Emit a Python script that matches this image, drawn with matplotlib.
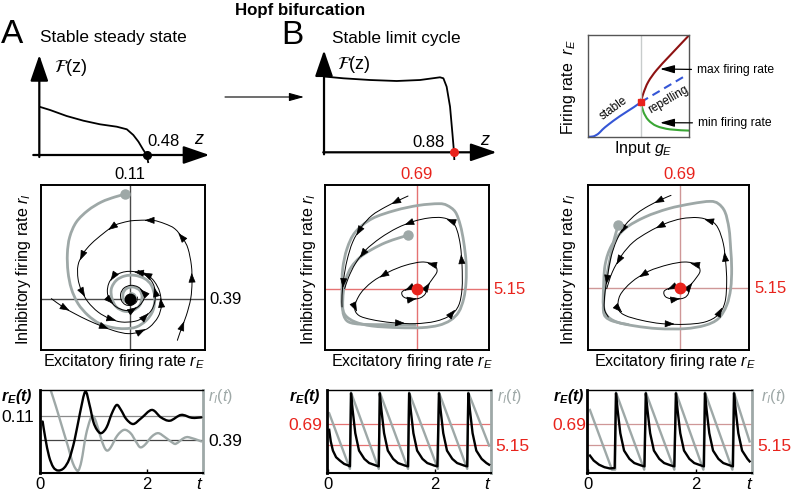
import numpy as np
import matplotlib
matplotlib.use("Agg")
import matplotlib.pyplot as plt
from matplotlib.path import Path
from matplotlib.patches import PathPatch

plt.rcParams['font.family'] = ['Liberation Sans', 'DejaVu Sans']
plt.rcParams['mathtext.fontset'] = 'custom'
plt.rcParams['mathtext.rm'] = 'Liberation Sans'
plt.rcParams['mathtext.it'] = 'Liberation Sans:italic'
plt.rcParams['mathtext.bf'] = 'Liberation Sans:italic:bold'

# ====================== DATA ======================
# F(z) curves (top row)
zA = [0, 0.048, 0.122, 0.197, 0.271, 0.346, 0.391, 0.42, 0.443, 0.465, 0.48, 0.487]
FA = [0.483, 0.45, 0.39, 0.343, 0.307, 0.283, 0.257, 0.20, 0.133, 0.05, 0.0, -0.08]
zA_root, zA_label = 0.48, "0.48"
zB = [0.007, 0.131, 0.311, 0.492, 0.65, 0.785, 0.808, 0.83, 0.853, 0.869, 0.88, 0.882]
FB = [0.757, 0.74, 0.723, 0.713, 0.723, 0.75, 0.74, 0.656, 0.456, 0.19, 0.0, -0.077]
zB_root, zB_label = 0.88, "0.88"

# bifurcation diagram (input g_E vs firing rate r_E)
g_hopf, r_hopf = 0.52, 0.34
g_stable = [0, 0.05, 0.1, 0.14, 0.2, 0.31, 0.45, 0.52]
r_stable = [0, 0.003, 0.03, 0.07, 0.12, 0.2, 0.29, 0.34]
g_repel = [0.52, 0.98]
r_repel = [0.34, 0.61]
g_max = [0.52, 0.545, 0.594, 0.677, 0.81, 1.0]
r_max = [0.34, 0.426, 0.54, 0.656, 0.80, 1.0]
g_min = [0.52, 0.545, 0.594, 0.677, 0.81, 1.0]
r_min = [0.34, 0.246, 0.164, 0.105, 0.072, 0.06]

# phase plane A (stable focus)
gA_x = [52, 46, 38, 30, 23, 19, 17.6, 18, 20, 24, 30, 37, 45, 52, 59, 65, 69, 70, 68, 64, 58, 52, 47, 44,
        44.4, 47, 52, 57, 61, 62.4, 61, 57, 53, 51, 51.6, 55, 58, 58, 55.6, 55]
gA_y = [92.6, 91, 88, 83, 76, 67, 57, 46, 36, 27, 20, 15, 12.6, 12, 13, 17, 23, 31, 38, 42, 44, 43.6, 41, 36,
        30, 25, 22.4, 23, 26, 31, 35, 37, 36, 33, 29, 27.6, 29, 32, 33, 30]
bA1_x = [83.6, 86, 89, 91.6, 92.4, 92, 90, 87, 82, 76, 69, 60, 54, 46, 39, 32, 27, 24, 24, 26, 30, 36, 43, 50,
         58, 64, 68, 70, 70.4, 69, 66, 61, 55, 50, 45, 42.4, 41.6, 43, 47, 52, 57, 61, 63.6, 63, 60, 55.6,
         51.6, 49.6, 50, 52.4, 56, 59, 59.6]
bA1_y = [5, 12, 20, 30, 40, 50, 60, 66, 72, 75, 77, 77, 76.4, 74, 69, 63, 57, 50, 42, 35, 28, 22, 18, 16,
         16.4, 19, 23, 28, 34, 39, 43, 45.6, 46.4, 45.6, 43, 39, 34, 29, 25, 23, 23.4, 26, 30, 34, 37, 38,
         36.4, 33, 29, 26.4, 26, 28, 31]
bA2_x = [8, 15, 22, 30, 38, 46, 54, 61, 67, 72, 74, 73, 70, 66, 60]
bA2_y = [30, 25, 21, 17, 13.6, 10.6, 9, 10, 13, 19, 26, 34, 40, 44, 47]
fpA = (55, 30)
fpA_labels = ("0.11", "0.39")

# phase plane B (limit cycle)
gB_x = [12, 12.4, 15, 20, 30, 44, 58, 70, 75, 80, 83, 85, 86.4, 86.4, 85, 82, 77, 70, 60, 46, 30, 20, 14, 12, 12]
gB_y = [36, 48, 60, 70, 78, 83, 86, 87, 86, 82, 74, 64, 52, 40, 30, 22, 17, 14, 12.6, 12.6, 13.6, 16, 20, 26, 36]
gB2_x = [51.4, 46, 38, 30, 23, 17.6, 14.4, 12.8, 12.4, 13, 16, 24, 40, 56]
gB2_y = [68, 66.4, 63.6, 59.6, 55, 49, 42, 34, 26, 20, 16, 14.6, 14.4, 14]
bB1_x = [51.6, 46, 38, 30, 23.6, 18.4, 15, 13, 12, 12]
bB1_y = [91.6, 89, 85, 80, 73, 64, 53, 42, 32, 25]
bB2_x = [57, 52, 48, 49, 54, 59, 62, 63, 66, 69, 67, 60, 50, 40, 30, 23, 19.6, 22, 30, 42, 56, 68, 77, 82, 84,
         84, 83, 81, 78, 72, 64, 55, 45, 35, 26, 20, 16, 13.6]
bB2_y = [36, 36, 34, 31, 29.6, 30.5, 33, 37, 41.5, 46.4, 50.4, 52, 50, 46, 40, 33, 25, 20, 17.4, 15.6, 15, 16.4,
         20, 26, 36, 50, 62, 71, 76.4, 78.6, 78.4, 76.4, 72.4, 66.4, 59, 51, 43, 36]
fpB = (57, 36)
fpB_labels = ("0.69", "5.15")

# phase plane C (limit cycle, other initial condition)
gC_x = [11, 12, 16, 24, 36, 50, 64, 75, 80, 84, 86.4, 87.4, 88, 87.4, 85, 80, 72, 60, 44, 30, 19, 13, 11, 11]
gC_y = [34, 50, 62, 72, 79, 84, 87, 88.4, 87, 82, 72, 60, 48, 36, 26, 18, 14, 12, 12, 13.6, 16, 20, 26, 34]
gC2_x = [20, 18.4, 16.4, 14.4, 12.6, 11.4, 11, 12.4, 17, 26]
gC2_y = [74, 69, 61, 51, 41, 31, 23, 19, 16.4, 14.4]
bC1_x = [51.6, 46, 38, 31, 24, 19, 15.6, 13.6, 12, 11.6, 14]
bC1_y = [92, 89.6, 85.6, 81, 74, 65, 55, 44, 34, 24, 19]
bC2_x = [57, 52, 47.5, 48.5, 54, 59.5, 62, 62.5, 66, 69, 67, 60, 50, 38, 28, 21, 20, 24, 34, 46, 60, 72, 80,
         84, 85, 84.4, 83, 80, 76, 68, 58, 48, 38, 29, 22, 16.4, 13]
bC2_y = [36.4, 36.6, 34.5, 31, 29.6, 30.5, 33, 37, 41.5, 46.4, 50.4, 52, 50.4, 46.4, 40, 32, 24, 20, 17, 15,
         14.6, 16, 20.4, 28, 40, 52, 63, 72, 76.4, 78.6, 78, 75, 70, 64, 56, 46, 36]
fpC = (57, 36.4)
fpC_labels = ("0.69", "5.15")

# time series A (damped)
tA_E = [0.05, 0.1, 0.17, 0.25, 0.34, 0.45, 0.55, 0.65, 0.75, 0.85, 0.93, 1.0, 1.07, 1.15, 1.25, 1.35, 1.44,
        1.52, 1.62, 1.75, 1.9, 2.1, 2.27, 2.44, 2.65, 2.85, 3.03]
rA_E = [0.62, 0.42, 0.2, 0.07, 0.03, 0.06, 0.17, 0.4, 0.72, 0.98, 0.82, 0.62, 0.52, 0.48, 0.55, 0.72, 0.82,
        0.76, 0.65, 0.59, 0.66, 0.76, 0.67, 0.63, 0.70, 0.665, 0.67]
tA_I = [0.2, 0.3, 0.375, 0.45, 0.53, 0.6, 0.66, 0.72, 0.78, 0.86, 0.94, 0.99, 1.05, 1.13, 1.2, 1.26, 1.33,
        1.45, 1.58, 1.7, 1.8, 1.88, 1.97, 2.1, 2.22, 2.35, 2.5, 2.56, 2.7, 2.8, 3.03]
rA_I = [1.0, 0.8, 0.64, 0.48, 0.31, 0.15, 0.06, 0.03, 0.15, 0.45, 0.64, 0.69, 0.62, 0.45, 0.32, 0.27, 0.31,
        0.45, 0.52, 0.48, 0.38, 0.31, 0.34, 0.44, 0.48, 0.43, 0.36, 0.355, 0.42, 0.43, 0.38]
refA = (0.69, 0.40)

# time series B (oscillation)
tB_E = [0.02, 0.05, 0.09, 0.15, 0.22, 0.3, 0.38, 0.41,
        0.43, 0.46, 0.51, 0.58, 0.68, 0.77, 0.9, 0.95,
        0.97, 1.0, 1.05, 1.12, 1.22, 1.31, 1.44, 1.5,
        1.52, 1.55, 1.6, 1.67, 1.77, 1.86, 1.99, 2.05,
        2.08, 2.11, 2.16, 2.23, 2.33, 2.42, 2.55, 2.61,
        2.63, 2.66, 2.71, 2.78, 2.88, 2.97, 3.02]
rB_E = [0.52, 0.38, 0.27, 0.19, 0.15, 0.11, 0.09, 0.08,
        0.96, 0.76, 0.48, 0.27, 0.17, 0.12, 0.09, 0.08,
        0.96, 0.76, 0.48, 0.27, 0.17, 0.12, 0.09, 0.08,
        0.96, 0.76, 0.48, 0.27, 0.17, 0.12, 0.09, 0.08,
        0.96, 0.76, 0.48, 0.27, 0.17, 0.12, 0.09, 0.08,
        0.96, 0.76, 0.48, 0.27, 0.17, 0.12, 0.10]
tB_I = [0.02, 0.41, 0.43, 0.95, 0.97, 1.5, 1.52, 2.06, 2.08, 2.61, 2.63, 3.02]
rB_I = [0.72, 0.05, 0.97, 0.05, 0.97, 0.05, 0.97, 0.05, 0.97, 0.05, 0.97, 0.33]
refB = (0.585, 0.34)

# time series C
tC_E = [0.03, 0.1, 0.2, 0.3, 0.4, 0.49,
        0.515, 0.545, 0.595, 0.665, 0.765, 0.855, 0.985, 1.045,
        1.07, 1.1, 1.15, 1.22, 1.32, 1.41, 1.54, 1.6,
        1.63, 1.66, 1.71, 1.78, 1.88, 1.97, 2.1, 2.15,
        2.17, 2.2, 2.25, 2.32, 2.42, 2.51, 2.64, 2.69,
        2.71, 2.74, 2.79, 2.86, 2.96, 3.0]
rC_E = [0.21, 0.15, 0.1, 0.07, 0.055, 0.06,
        0.96, 0.76, 0.48, 0.27, 0.17, 0.12, 0.09, 0.08,
        0.96, 0.76, 0.48, 0.27, 0.17, 0.12, 0.09, 0.08,
        0.96, 0.76, 0.48, 0.27, 0.17, 0.12, 0.09, 0.08,
        0.96, 0.76, 0.48, 0.27, 0.17, 0.12, 0.09, 0.08,
        0.96, 0.76, 0.48, 0.27, 0.17, 0.14]
tC_I = [0.03, 0.44, 0.5, 0.515, 1.04, 1.07, 1.6, 1.63, 2.14, 2.17, 2.68, 2.71, 3.0]
rC_I = [0.76, 0.04, 0.04, 0.97, 0.04, 0.97, 0.04, 0.97, 0.04, 0.97, 0.04, 0.97, 0.38]
refC = (0.585, 0.34)

time_ticks = [0, 2]

# ====================== STYLE / LAYOUT ======================
W, H = 793, 491
GRAY = '#9ea8a7'
RED = '#e8231c'
REDLINE_B = '#e57272'
REDLINE_C = '#cf9797'

fig = plt.figure(figsize=(W / 100, H / 100), dpi=100)


def box(x0, y0, x1, y1):
    return fig.add_axes([x0 / W, 1 - y1 / H, (x1 - x0) / W, (y1 - y0) / H])


def P(x, y):
    return (x / W, 1 - y / H)


def ftext(x, y, s, **kw):
    fig.text(x / W, 1 - y / H, s, **kw)


def smooth(ax, x, y, **kw):
    p = np.column_stack([x, y]).astype(float)
    n = len(p)
    verts = [p[0]]
    codes = [Path.MOVETO]
    for i in range(n - 1):
        p0 = p[i - 1] if i > 0 else p[i]
        p1, p2 = p[i], p[i + 1]
        p3 = p[i + 2] if i + 2 < n else p[i + 1]
        verts += [p1 + (p2 - p0) / 6, p2 - (p3 - p1) / 6, p2]
        codes += [Path.CURVE4] * 3
    ax.add_patch(PathPatch(Path(verts, codes), fill=False, capstyle='round', joinstyle='round', **kw))


def arrows(ax, x, y, start=1, step=3, stop=None):
    stop = len(x) - 1 if stop is None else stop
    for i in range(start, stop, step):
        x0, y0, x1, y1 = x[i], y[i], x[i + 1], y[i + 1]
        mx, my = (x0 + x1) / 2, (y0 + y1) / 2
        dx, dy = (x1 - x0) * 0.05, (y1 - y0) * 0.05
        ax.annotate('', xy=(mx + dx, my + dy), xytext=(mx - dx, my - dy),
                    arrowprops=dict(arrowstyle='-|>,head_length=0.6,head_width=0.22', color='k',
                                    lw=0.5, shrinkA=0, shrinkB=0, mutation_scale=10))


# ---------- titles ----------
ftext(300, 15, 'Hopf bifurcation', fontsize=12.2, fontweight='bold', ha='center', va='baseline')
ftext(1, 43, 'A', fontsize=24, ha='left', va='baseline')
ftext(281, 44, 'B', fontsize=24, ha='left', va='baseline')
ftext(40, 42, 'Stable steady state', fontsize=12.4, ha='left', va='baseline')
ftext(332, 43, 'Stable limit cycle', fontsize=12.4, ha='left', va='baseline')


# ---------- F(z) panels ----------
def fz_panel(px, zlim, Flim, z, F, root, rlabel, dotcolor, xarrow, yarrow, ftxt, rtxt, ztxt):
    ax = box(*px)
    ax.set_xlim(*zlim)
    ax.set_ylim(*Flim)
    ax.set_axis_off()
    arrowp = dict(arrowstyle='-|>,head_length=1.6,head_width=0.55', lw=1.6, color='k',
                  shrinkA=0, shrinkB=0, mutation_scale=10)
    ax.annotate('', xy=(xarrow[1], 0), xytext=(xarrow[0], 0), arrowprops=arrowp)
    ax.annotate('', xy=(0, yarrow[1]), xytext=(0, yarrow[0]), arrowprops=arrowp)
    ax.plot(z, F, color='k', lw=1.3, solid_capstyle='butt')
    ax.plot([root], [0], 'o', color=dotcolor, ms=5.5, zorder=5)
    ax.text(ftxt[0], ftxt[1], r'$\mathcal{F}$(z)', fontsize=13, ha='center', va='center',
            math_fontfamily='stix')
    ax.text(rtxt[0], rtxt[1], rlabel, fontsize=12, ha='center', va='center')
    ax.text(ztxt[0], ztxt[1], 'z', fontsize=13, ha='center', va='center', style='italic')
    return ax


fz_panel((30, 45, 215, 170), (-0.0416, 0.785), (-0.15, 1.10), zA, FA, zA_root, zA_label, 'k',
         (-0.027, 0.76), (-0.02, 1.0), (0.14, 0.87), (0.557, 0.13), (0.71, 0.15))
fz_panel((315, 40, 505, 168), (-0.061, 1.225), (-0.157, 1.123), zB, FB, zB_root, zB_label, RED,
         (-0.005, 1.168), (-0.02, 1.02), (0.2, 0.88), (0.704, 0.10), (1.09, 0.12))

# ---------- bifurcation inset ----------
axb = box(588.3, 35, 689.3, 136.7)
axb.set_xlim(0, 1)
axb.set_ylim(0, 1)
axb.set_xticks([])
axb.set_yticks([])
for s in axb.spines.values():
    s.set_color('#555555')
    s.set_linewidth(1.0)
axb.axvline(g_hopf, color='#c8cccc', lw=1.0)
smooth(axb, g_stable, r_stable, edgecolor='#3556d6', linewidth=1.5)
axb.plot(g_repel, r_repel, color='#3556d6', lw=1.5, ls=(0, (4, 2.5)))
smooth(axb, g_max, r_max, edgecolor='#8e1212', linewidth=1.5)
smooth(axb, g_min, r_min, edgecolor='#3aa635', linewidth=1.5)
axb.plot([g_hopf], [r_hopf], 's', color=RED, ms=4.5, zorder=5)
axb.text(0.25, 0.28, 'stable', fontsize=8.5, rotation=36, ha='center', va='center')
axb.text(0.79, 0.36, 'repelling', fontsize=8.5, rotation=30, ha='center', va='center')
ftext(568, 87, r'Firing rate  $r_E$', fontsize=11.5, rotation=90, ha='center', va='center')
ftext(643, 149, r'Input $g_E$', fontsize=11.5, ha='center', va='center')


# ---------- phase planes ----------
def phase(px, xlim, gray_list, black_list, gdot, fp, fpcolor, linecolor, labels, labcolor, lx, ly):
    ax = box(*px)
    ax.set_xlim(*xlim)
    ax.set_ylim(-1, 98.4)
    ax.set_xticks([])
    ax.set_yticks([])
    for s in ax.spines.values():
        s.set_linewidth(1.4)
    ax.axvline(fp[0], color=linecolor, lw=1.0, zorder=1)
    ax.axhline(fp[1], color=linecolor, lw=1.0, zorder=1)
    for gx, gy in gray_list:
        smooth(ax, gx, gy, edgecolor=GRAY, linewidth=2.0, zorder=2)
    for bx, by, stop in black_list:
        smooth(ax, bx, by, edgecolor='k', linewidth=0.7, zorder=3)
        arrows(ax, bx, by, stop=stop)
    ax.plot([gdot[0]], [gdot[1]], 'o', color=GRAY, ms=6.5, zorder=4)
    ax.plot([fp[0]], [fp[1]], 'o', color=fpcolor, ms=7.5, zorder=5)
    x0, y0, x1, y1 = px
    fx = x0 + (fp[0] - xlim[0]) / (xlim[1] - xlim[0]) * (x1 - x0)
    fy = y1 - (fp[1] + 1) / 99.4 * (y1 - y0)
    ftext(fx, 179, labels[0], fontsize=12, color=labcolor, ha='center', va='baseline')
    ftext(x1 + 5, fy + 5, labels[1], fontsize=12, color=labcolor, ha='left', va='baseline')
    ftext(lx, 269, r'Inhibitory firing rate $r_I$', fontsize=11.6, rotation=90, ha='center', va='center')
    ftext(ly, 366, r'Excitatory firing rate $r_E$', fontsize=11.6, ha='center', va='baseline')
    return ax


phase((40.7, 184.7, 204.7, 350.3), (1.6, 100), [(gA_x, gA_y)],
      [(bA1_x, bA1_y, 44), (bA2_x, bA2_y, None)],
      (gA_x[0], gA_y[0]), fpA, 'k', '#4a4a4a', fpA_labels, 'k', 24, 124)
phase((324.7, 184.7, 488.7, 350.3), (1.6, 100), [(gB_x, gB_y), (gB2_x, gB2_y)],
      [(bB1_x, bB1_y, None), (bB2_x, bB2_y, None)], (gB2_x[0], gB2_y[0]), fpB, RED, REDLINE_B,
      fpB_labels, RED, 309, 412)
phase((587.7, 184.7, 749, 350.3), (1.6, 98.4), [(gC_x, gC_y), (gC2_x, gC2_y)],
      [(bC1_x, bC1_y, None), (bC2_x, bC2_y, None)], (gC2_x[0], gC2_y[0]), fpC, RED, REDLINE_C,
      fpC_labels, RED, 569, 675)


# ---------- time series ----------
def tseries(px, tlim, tE, rE, tI, rI, ref, refcolors, labels, labcolor, smooth_curves, lab_pos):
    ax = box(*px)
    ax.set_xlim(*tlim)
    ax.set_ylim(0, 1)
    ax.set_yticks([])
    ax.set_xticks(time_ticks)
    ax.set_xticklabels([])
    ax.tick_params(axis='x', direction='in', length=3, width=1)
    ax.spines['left'].set_linewidth(2.0)
    ax.spines['bottom'].set_linewidth(1.5)
    ax.spines['top'].set_linewidth(1.0)
    ax.spines['right'].set_linewidth(2.0)
    ax.spines['right'].set_color(GRAY)
    ax.axhline(ref[0], color=refcolors[0], lw=0.9, zorder=1)
    ax.axhline(ref[1], color=refcolors[1], lw=0.9, zorder=1)
    if smooth_curves:
        smooth(ax, tI, rI, edgecolor=GRAY, linewidth=1.7, zorder=2)
        smooth(ax, tE, rE, edgecolor='k', linewidth=1.7, zorder=3)
    else:
        ax.plot(tI, rI, color=GRAY, lw=1.7, zorder=2)
        ax.plot(tE, rE, color='k', lw=1.7, zorder=3, solid_joinstyle='round')
    x0, y0, x1, y1 = px
    tx = lambda t: x0 + (t - tlim[0]) / (tlim[1] - tlim[0]) * (x1 - x0)
    for tk in time_ticks:
        ftext(tx(tk), 489, str(tk), fontsize=12, ha='center', va='baseline')
    ftext(tx(3.0) - 1, 489, 't', fontsize=12.5, style='italic', ha='center', va='baseline')
    rE_x, rI_x = lab_pos
    ftext(rE_x, 401, r'$\mathbf{r}_\mathbf{E}\mathbf{(t)}$', fontsize=11.5, ha='right', va='baseline')
    ftext(rI_x, 401, r'$r_I(t)$', fontsize=11.5, color=GRAY, ha='left', va='baseline')
    yv = lambda v: y1 - v * (y1 - y0)
    ftext(rE_x + 1, yv(ref[0]) + 6, labels[0], fontsize=12.5, color=labcolor, ha='right', va='baseline')
    ftext(x1 + 5, yv(ref[1]) + 6, labels[1], fontsize=12.5, color=labcolor, ha='left', va='baseline')
    return ax


tseries((40, 390, 203, 473), (0, 3.06), tA_E, rA_E, tA_I, rA_I, refA, ('#8a8a8a', '#444444'),
        fpA_labels, 'k', True, (33, 208))
tseries((327.3, 390, 490.7, 473), (-0.015, 3.05), tB_E, rB_E, tB_I, rB_I, refB, (REDLINE_B, REDLINE_B),
        fpB_labels, RED, False, (321, 497))
tseries((586.7, 390, 752.3, 473), (-0.03, 3.05), tC_E, rC_E, tC_I, rC_I, refC, (REDLINE_C, REDLINE_C),
        fpC_labels, RED, False, (585, 761))

# ---------- overlay annotations (on top of everything) ----------
ov = fig.add_axes([0, 0, 1, 1], facecolor='none', zorder=10)
ov.set_axis_off()
ov.annotate('', xy=P(304, 97), xytext=P(225, 97), xycoords='figure fraction',
            arrowprops=dict(arrowstyle='-|>,head_length=0.9,head_width=0.25', lw=0.8, color='k',
                            shrinkA=0, shrinkB=0))
ap = dict(arrowstyle='-|>,head_length=1.0,head_width=0.28', lw=0.9, color='k', shrinkA=2, shrinkB=0)
ov.annotate('max firing rate', xy=P(660, 69), xytext=P(697, 70), xycoords='figure fraction',
            textcoords='figure fraction', fontsize=8.7, ha='left', va='center', arrowprops=ap)
ov.annotate('min firing rate', xy=P(660, 122.7), xytext=P(698, 123), xycoords='figure fraction',
            textcoords='figure fraction', fontsize=8.7, ha='left', va='center', arrowprops=ap)

fig.savefig('out.png', dpi=100)
